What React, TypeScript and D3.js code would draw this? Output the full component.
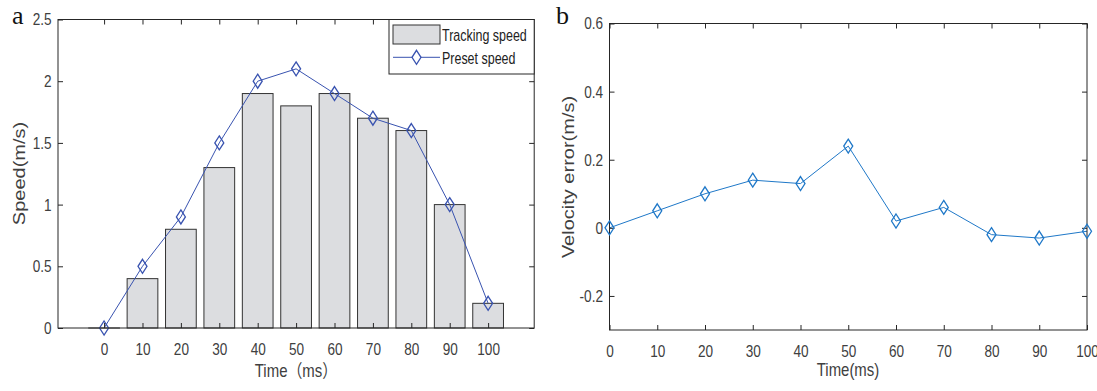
import React, { useEffect, useRef } from 'react';
import * as d3 from 'd3';

// data
const times = [0, 10, 20, 30, 40, 50, 60, 70, 80, 90, 100];
const trackingSpeed = [0, 0.4, 0.8, 1.3, 1.9, 1.8, 1.9, 1.7, 1.6, 1.0, 0.2];
const presetSpeed = [0, 0.5, 0.9, 1.5, 2.0, 2.1, 1.9, 1.7, 1.6, 1.0, 0.2];
const velocityError = [0, 0.05, 0.1, 0.14, 0.13, 0.24, 0.02, 0.06, -0.02, -0.03, -0.01];
const speedTicks = [0, 0.5, 1, 1.5, 2, 2.5];
const errorTicks = [-0.2, 0, 0.2, 0.4, 0.6];
const legendLabels = ['Tracking speed', 'Preset speed'];

const FONT = "'Liberation Sans', Arial, 'Noto Sans CJK SC', sans-serif";
const AXIS = '#262626';
const LABEL = '#404040';
const SQ = 0.8; // figure text looks horizontally squeezed
const BAR_FILL = '#dcdde0';
const PRESET_COLOR = '#3953b0';
const ERROR_COLOR = '#1f78c8';

const diamond = (cx: number, cy: number) =>
	`M${cx},${cy - 7}L${cx + 4.5},${cy}L${cx},${cy + 7}L${cx - 4.5},${cy}Z`;

const drawFrame = (g: any, x: any, y: any, yTicks: number[]) => {
	const [x0, x1] = x.range();
	const [yb, yt] = y.range();
	const fmt = (d: any) => String(d);

	const bottom = g.append('g')
		.attr('transform', `translate(0,${yb})`)
		.call(d3.axisBottom(x).tickValues(times).tickSizeInner(-5).tickSizeOuter(0).tickFormat(fmt));
	bottom.selectAll('text')
		.attr('y', 27).attr('dy', null)
		.attr('transform', `scale(${SQ},1)`);

	const top = g.append('g')
		.attr('transform', `translate(0,${yt})`)
		.call(d3.axisTop(x).tickValues(times).tickSizeInner(-5).tickSizeOuter(0).tickFormat(() => ''));

	const left = g.append('g')
		.attr('transform', `translate(${x0},0)`)
		.call(d3.axisLeft(y).tickValues(yTicks).tickSizeInner(-5).tickSizeOuter(0).tickFormat(fmt));
	left.selectAll('text')
		.attr('x', -6.5 / SQ)
		.attr('transform', `scale(${SQ},1)`);

	const right = g.append('g')
		.attr('transform', `translate(${x1},0)`)
		.call(d3.axisRight(y).tickValues(yTicks).tickSizeInner(-5).tickSizeOuter(0).tickFormat(() => ''));

	[bottom, top, left, right].forEach(a => {
		a.select('.domain').remove();
		a.selectAll('line').attr('stroke', AXIS);
		a.selectAll('text').attr('fill', LABEL).style('font-size', '17px').style('font-family', FONT);
	});

	g.append('rect')
		.attr('x', x0).attr('y', yt)
		.attr('width', x1 - x0).attr('height', yb - yt)
		.attr('fill', 'none').attr('stroke', AXIS);
};

const drawChart = (svgEl: SVGSVGElement) => {
	const svg = d3.select(svgEl);
	svg.selectAll('*').remove();

	// ---------- panel a ----------
	const xa = d3.scaleLinear().domain([-12, 112]).range([58, 534.2]);
	const ya = d3.scaleLinear().domain([0, 2.5]).range([328, 19.5]);
	const ga = svg.append('g');
	const bw = (xa(10) - xa(0)) * 0.8;

	ga.selectAll('.bar')
		.data(trackingSpeed)
		.enter()
		.append('rect')
		.attr('x', (d, i) => xa(times[i]) - bw / 2)
		.attr('y', d => ya(d))
		.attr('width', bw)
		.attr('height', d => Math.max(ya(0) - ya(d), 0.01))
		.attr('fill', BAR_FILL)
		.attr('stroke', '#333')
		.attr('stroke-width', 1);

	const presetLine = d3.line<number>().x((d, i) => xa(times[i])).y(d => ya(d));
	ga.append('path')
		.attr('d', presetLine(presetSpeed))
		.attr('fill', 'none')
		.attr('stroke', PRESET_COLOR)
		.attr('stroke-width', 1);
	ga.selectAll('.mk')
		.data(presetSpeed)
		.enter()
		.append('path')
		.attr('d', (d, i) => diamond(xa(times[i]), ya(d)))
		.attr('fill', 'none')
		.attr('stroke', PRESET_COLOR)
		.attr('stroke-width', 1.3);

	drawFrame(ga, xa, ya, speedTicks);

	// legend
	const lx0 = 389, lx1 = xa.range()[1], ly0 = ya.range()[1], ly1 = 74;
	const lg = ga.append('g');
	lg.append('rect')
		.attr('x', lx0).attr('y', ly0).attr('width', lx1 - lx0).attr('height', ly1 - ly0)
		.attr('fill', 'white').attr('stroke', AXIS);
	lg.append('rect')
		.attr('x', 393).attr('y', 25).attr('width', 47).attr('height', 19)
		.attr('fill', BAR_FILL).attr('stroke', '#333');
	lg.append('line')
		.attr('x1', 393).attr('x2', 440).attr('y1', 57.3).attr('y2', 57.3)
		.attr('stroke', PRESET_COLOR);
	lg.append('path')
		.attr('d', diamond(416.5, 57.3))
		.attr('fill', 'white').attr('stroke', PRESET_COLOR).attr('stroke-width', 1.3);
	lg.selectAll('.lt')
		.data(legendLabels)
		.enter()
		.append('text')
		.text(d => d)
		.attr('transform', (d, i) => `translate(442,${i === 0 ? 40.5 : 63.5}) scale(0.78,1)`)
		.style('font-family', FONT)
		.style('font-size', '16px')
		.attr('fill', '#222');

	ga.append('text')
		.text('Time（ms）')
		.attr('transform', `translate(296,377) scale(0.83,1)`)
		.attr('text-anchor', 'middle')
		.style('font-family', FONT).style('font-size', '18px').attr('fill', LABEL);
	ga.append('text')
		.text('Speed(m/s)')
		.attr('transform', `translate(25,173.5) rotate(-90) scale(1,${SQ})`)
		.attr('text-anchor', 'middle')
		.style('font-family', FONT).style('font-size', '20px').attr('fill', LABEL);
	ga.append('text')
		.text('a')
		.attr('x', 12).attr('y', 24)
		.style('font-family', "'Liberation Serif', 'Times New Roman', serif")
		.style('font-size', '26px').attr('fill', '#111');

	// ---------- panel b ----------
	const xb = d3.scaleLinear().domain([0, 100]).range([609.5, 1087]);
	const yb = d3.scaleLinear().domain([-0.3, 0.6]).range([330, 23.5]);
	const gb = svg.append('g');

	const errLine = d3.line<number>().x((d, i) => xb(times[i])).y(d => yb(d));
	gb.append('path')
		.attr('d', errLine(velocityError))
		.attr('fill', 'none')
		.attr('stroke', ERROR_COLOR)
		.attr('stroke-width', 1);

	drawFrame(gb, xb, yb, errorTicks);

	gb.selectAll('.mk')
		.data(velocityError)
		.enter()
		.append('path')
		.attr('d', (d, i) => diamond(xb(times[i]), yb(d)))
		.attr('fill', 'none')
		.attr('stroke', ERROR_COLOR)
		.attr('stroke-width', 1.3);

	gb.append('text')
		.text('Time(ms)')
		.attr('transform', `translate(848,376) scale(0.83,1)`)
		.attr('text-anchor', 'middle')
		.style('font-family', FONT).style('font-size', '18px').attr('fill', LABEL);
	gb.append('text')
		.text('Velocity error(m/s)')
		.attr('transform', `translate(574,177) rotate(-90) scale(1,${SQ})`)
		.attr('text-anchor', 'middle')
		.style('font-family', FONT).style('font-size', '20px').attr('fill', LABEL);
	gb.append('text')
		.text('b')
		.attr('x', 556).attr('y', 24)
		.style('font-family', "'Liberation Serif', 'Times New Roman', serif")
		.style('font-size', '26px').attr('fill', '#111');
};

const App = () => {
	const ref = useRef<SVGSVGElement>(null);
	useEffect(() => {
		if (ref.current) drawChart(ref.current);
	}, []);
	return (
		<svg
			ref={ref}
			width={1097}
			height={391}
			style={{ position: 'absolute', left: 0, top: 0, background: 'white' }}
		/>
	);
};

export default App;
